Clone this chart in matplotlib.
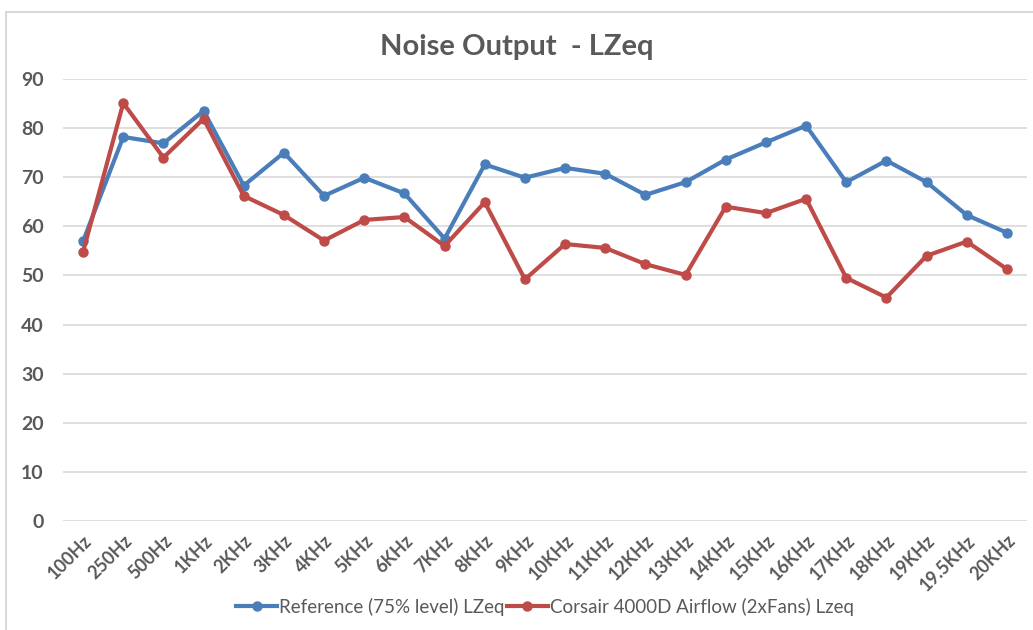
import matplotlib.pyplot as plt
from matplotlib.patches import Rectangle

freqs = ['100Hz', '250Hz', '500Hz', '1KHz', '2KHz', '3KHz', '4KHz', '5KHz', '6KHz',
         '7KHz', '8KHz', '9KHz', '10KHz', '11KHz', '12KHz', '13KHz', '14KHz', '15KHz',
         '16KHz', '17KHz', '18KHz', '19KHz', '19.5KHz', '20KHz']
reference = [57.0, 78.2, 76.9, 83.5, 68.3, 75.0, 66.2, 69.9, 66.7, 57.5, 72.6, 69.9,
             71.9, 70.7, 66.4, 69.0, 73.6, 77.1, 80.5, 69.0, 73.4, 69.0, 62.3, 58.7]
corsair = [54.8, 85.1, 74.0, 81.9, 66.2, 62.3, 57.1, 61.3, 61.9, 56.0, 64.9, 49.2,
           56.4, 55.6, 52.3, 50.1, 64.0, 62.7, 65.6, 49.5, 45.5, 54.0, 56.9, 51.3]

plt.rcParams['font.family'] = ['Lato', 'DejaVu Sans']
text_grey = '#595959'

fig = plt.figure(figsize=(10.33, 6.3), dpi=100)
fig.patches.append(Rectangle((6 / 1033, -0.1), 1.2, 1 - 12 / 630 + 0.1,
                             transform=fig.transFigure, fill=False,
                             edgecolor='#d9d9d9', linewidth=1.5))
ax = fig.add_axes([63 / 1033, 1 - 521 / 630, (1027 - 63) / 1033, (521 - 79) / 630])

x = list(range(len(freqs)))
ax.plot(x, reference, color='#4a7ebb', linewidth=3, marker='o', markersize=6.5,
        label='Reference (75% level) LZeq', zorder=3)
ax.plot(x, corsair, color='#be4b48', linewidth=3, marker='o', markersize=6.5,
        label='Corsair 4000D Airflow (2xFans) Lzeq', zorder=4)

ax.set_xlim(-0.5, len(freqs) - 0.5)
ax.set_ylim(0, 90)
ax.set_yticks(range(0, 91, 10))
ax.yaxis.grid(True, color='#d9d9d9', linewidth=1.2)
ax.set_axisbelow(True)
for s in ax.spines.values():
    s.set_visible(False)
ax.tick_params(length=0)
ax.tick_params(axis='y', pad=14, labelsize=14, labelcolor=text_grey)
ax.tick_params(axis='x', pad=8)
ax.set_xticks(x)
ax.set_xticklabels(freqs, rotation=45, ha='right', rotation_mode='anchor',
                   fontsize=13, fontweight='bold', color=text_grey)
for lab in ax.get_yticklabels():
    lab.set_fontweight('bold')

fig.text(0.5, 1 - 47 / 630, 'Noise Output  - LZeq', ha='center', va='center',
         fontsize=21, fontweight='bold', color=text_grey)

ax.legend(loc='center', bbox_to_anchor=(0.5, (521 - 607) / (521 - 79)), ncol=2,
          frameon=False, fontsize=13.5, labelcolor=text_grey, handlelength=2.2,
          handletextpad=0.1, columnspacing=0.1)

fig.savefig('out.png', dpi=100)
